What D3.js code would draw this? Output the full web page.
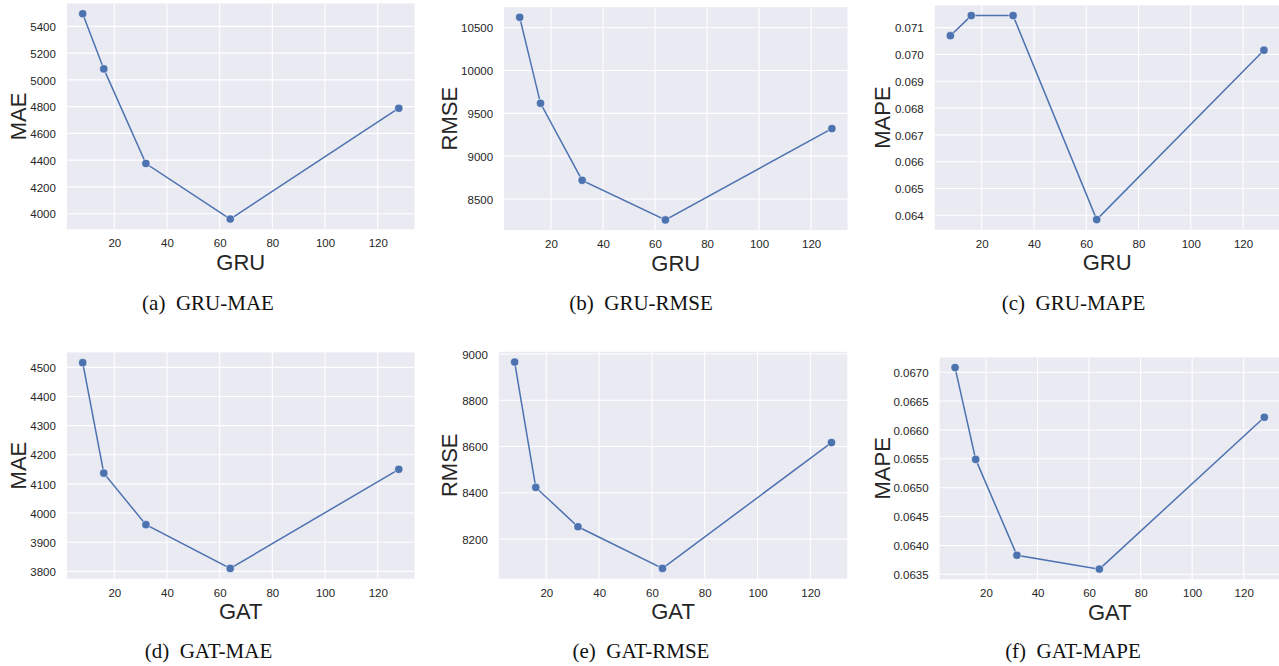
<!DOCTYPE html>
<html>
<head>
<meta charset="utf-8">
<script src="https://cdn.jsdelivr.net/npm/d3@7"></script>
<style>
  body { margin: 0; background: #fff; }
  svg { display: block; }
  .tick text { font-family: "Liberation Sans", Arial, sans-serif; font-size: 11.5px; fill: #262626; }
  .axis-label { font-family: "Liberation Sans", Arial, sans-serif; font-size: 22px; fill: #262626; }
  .caption { font-family: "Liberation Serif", "Times New Roman", serif; font-size: 21px; fill: #111; white-space: pre; }
</style>
</head>
<body>
<svg width="1279" height="666"></svg>
<script>
const svg = d3.select('svg');

// hidden sizes on the x axis
const hiddenSizes = [8, 16, 32, 64, 128];
const xTicks = [20, 40, 60, 80, 100, 120];

// values
const gruMae = [5494, 5082, 4375, 3960, 4788];
const gruRmse = [10621, 9617, 8718, 8255, 9322];
const gruMape = [0.0707, 0.07145, 0.07145, 0.06384, 0.07016];
const gatMae = [4516, 4137, 3960, 3810, 4150];
const gatRmse = [8965, 8423, 8253, 8073, 8617];
const gatMape = [0.06708, 0.06549, 0.06383, 0.06359, 0.06622];

// y tick labels
const gruMaeTicks = [4000, 4200, 4400, 4600, 4800, 5000, 5200, 5400];
const gruRmseTicks = [8500, 9000, 9500, 10000, 10500];
const gruMapeTicks = [0.064, 0.065, 0.066, 0.067, 0.068, 0.069, 0.070, 0.071];
const gatMaeTicks = [3800, 3900, 4000, 4100, 4200, 4300, 4400, 4500];
const gatRmseTicks = [8200, 8400, 8600, 8800, 9000];
const gatMapeTicks = [0.0635, 0.0640, 0.0645, 0.0650, 0.0655, 0.0660, 0.0665, 0.0670];

const panels = [
    {values: gruMae, ticks: gruMaeTicks, fmt: d3.format('d'), xLabel: 'GRU', yLabel: 'MAE', tag: '(a)', name: 'GRU-MAE',
     left: 66.9, right: 414.6, top: 3.5, bottom: 229.3, yLabelX: 17.7, capX: 208, capY: 310},
    {values: gruRmse, ticks: gruRmseTicks, fmt: d3.format('d'), xLabel: 'GRU', yLabel: 'RMSE', tag: '(b)', name: 'GRU-RMSE',
     left: 504.1, right: 847.5, top: 7.2, bottom: 230.1, yLabelX: 449.3, capX: 641, capY: 310},
    {values: gruMape, ticks: gruMapeTicks, fmt: d3.format('.3f'), xLabel: 'GRU', yLabel: 'MAPE', tag: '(c)', name: 'GRU-MAPE',
     left: 934.7, right: 1279.6, top: 5.4, bottom: 229.8, yLabelX: 882.3, capX: 1073.5, capY: 310},
    {values: gatMae, ticks: gatMaeTicks, fmt: d3.format('d'), xLabel: 'GAT', yLabel: 'MAE', tag: '(d)', name: 'GAT-MAE',
     left: 66.9, right: 414.6, top: 352.4, bottom: 578.7, yLabelX: 17.7, capX: 208.5, capY: 658},
    {values: gatRmse, ticks: gatRmseTicks, fmt: d3.format('d'), xLabel: 'GAT', yLabel: 'RMSE', tag: '(e)', name: 'GAT-RMSE',
     left: 498.8, right: 847.3, top: 351.8, bottom: 578.7, yLabelX: 449.3, capX: 641, capY: 658},
    {values: gatMape, ticks: gatMapeTicks, fmt: d3.format('.4f'), xLabel: 'GAT', yLabel: 'MAPE', tag: '(f)', name: 'GAT-MAPE',
     left: 939.6, right: 1279.8, top: 357.5, bottom: 579.2, yLabelX: 882.3, capX: 1073, capY: 658}
];

const pad = (lo, hi) => { const m = (hi - lo) * 0.05; return [lo - m, hi + m]; };

panels.forEach(p => {
    const xDom = pad(d3.min(hiddenSizes), d3.max(hiddenSizes));
    const yDom = pad(d3.min(p.values), d3.max(p.values));
    const x = d3.scaleLinear().domain(xDom).range([p.left, p.right]);
    const y = d3.scaleLinear().domain(yDom).range([p.bottom, p.top]);

    const g = svg.append('g');

    g.append('rect')
        .attr('x', p.left).attr('y', p.top)
        .attr('width', p.right - p.left).attr('height', p.bottom - p.top)
        .attr('fill', '#eaeaf2');

    // grid
    g.append('g').selectAll('line').data(xTicks).join('line')
        .attr('x1', d => x(d)).attr('x2', d => x(d))
        .attr('y1', p.top).attr('y2', p.bottom)
        .attr('stroke', '#fff').attr('stroke-width', 1.1);
    g.append('g').selectAll('line').data(p.ticks).join('line')
        .attr('x1', p.left).attr('x2', p.right)
        .attr('y1', d => y(d)).attr('y2', d => y(d))
        .attr('stroke', '#fff').attr('stroke-width', 1.1);

    // axes (labels only)
    const xAxis = g.append('g')
        .attr('transform', 'translate(0,' + p.bottom + ')')
        .call(d3.axisBottom(x).tickValues(xTicks).tickSize(0).tickPadding(10));
    xAxis.select('.domain').remove();

    const yAxis = g.append('g')
        .attr('transform', 'translate(' + p.left + ',0)')
        .call(d3.axisLeft(y).tickValues(p.ticks).tickFormat(p.fmt).tickSize(0).tickPadding(11));
    yAxis.select('.domain').remove();
    yAxis.selectAll('text').attr('dy', '0.36em');

    // series
    const line = d3.line().x((d, i) => x(hiddenSizes[i])).y(d => y(d));
    g.append('path')
        .datum(p.values)
        .attr('d', line)
        .attr('fill', 'none')
        .attr('stroke', '#4c72b0')
        .attr('stroke-width', 1.5);

    g.append('g').selectAll('circle').data(p.values).join('circle')
        .attr('cx', (d, i) => x(hiddenSizes[i]))
        .attr('cy', d => y(d))
        .attr('r', 4.1)
        .attr('fill', '#4c72b0')
        .attr('stroke', '#fff')
        .attr('stroke-width', 0.5);

    // axis titles
    g.append('text')
        .attr('class', 'axis-label')
        .attr('x', (p.left + p.right) / 2)
        .attr('y', p.bottom + 40.5)
        .attr('text-anchor', 'middle')
        .text(p.xLabel);

    g.append('text')
        .attr('class', 'axis-label')
        .attr('transform', 'translate(' + (p.yLabelX + 8) + ',' + ((p.top + p.bottom) / 2) + ')rotate(-90)')
        .attr('text-anchor', 'middle')
        .text(p.yLabel);

    // caption
    g.append('text')
        .attr('class', 'caption')
        .attr('x', p.capX)
        .attr('y', p.capY)
        .attr('text-anchor', 'middle')
        .text(p.tag + '  ' + p.name);
});
</script>
</body>
</html>
